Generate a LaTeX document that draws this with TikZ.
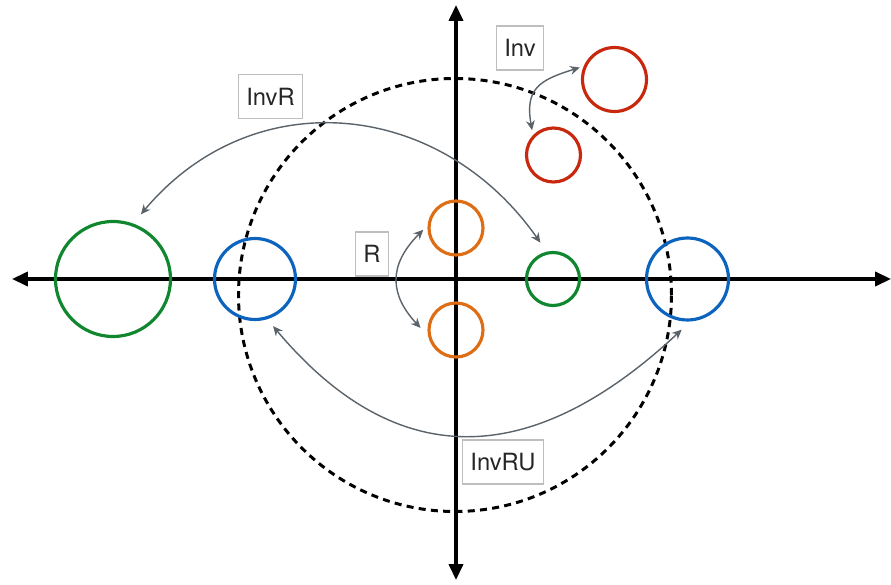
\documentclass[tikz,border=0pt]{standalone}
\usepackage{fontspec}
\setsansfont{TeX Gyre Heros}
\usetikzlibrary{arrows.meta}

\definecolor{ringred}{RGB}{200,40,14}
\definecolor{ringorange}{RGB}{222,110,22}
\definecolor{ringgreen}{RGB}{16,134,46}
\definecolor{ringblue}{RGB}{12,100,190}
\definecolor{arrowgray}{RGB}{90,98,106}
\definecolor{boxgray}{RGB}{190,190,190}

\begin{document}
\begin{tikzpicture}[
        x=0.02cm, y=0.02cm,
        axis/.style={line width=1.8pt, {Triangle[length=9pt,width=8pt]}-{Triangle[length=9pt,width=8pt]}},
        ring/.style={circle, draw, line width=1.8pt, inner sep=0pt},
        conn/.style={draw=arrowgray, line width=0.8pt, {Stealth[length=5.5pt,width=5pt]}-{Stealth[length=5.5pt,width=5pt]}},
        tag/.style={draw=boxgray, line width=0.9pt, text=black!85, font=\sffamily\fontsize{13.5}{16}\selectfont, minimum height=25pt, inner xsep=4.5pt}
    ]
        \useasboundingbox (-456,-305) rectangle (435,279);

        % Unit circle (dashed)
        \draw[line width=1.7pt, dash pattern=on 4pt off 3pt] (-1,-16) circle (216.5);

        % Axes
        \coordinate (x_left) at (-444,0);
        \coordinate (x_right) at (435,0);
        \coordinate (y_bottom) at (0,-301);
        \coordinate (y_top) at (0,274);
        \draw[axis] (x_left) -- (x_right);
        \draw[axis] (y_bottom) -- (y_top);

        % Circles
        \node[ring, draw=ringgreen, minimum size=2.3cm] (green_big) at (-343,0) {};
        \node[ring, draw=ringblue, minimum size=1.62cm] (blue_left) at (-201,0) {};
        \node[ring, draw=ringblue, minimum size=1.64cm] (blue_right) at (231.5,0) {};
        \node[ring, draw=ringgreen, minimum size=1.06cm] (green_small) at (97,0) {};
        \node[ring, draw=ringorange, minimum size=1.08cm] (orange_top) at (0,51) {};
        \node[ring, draw=ringorange, minimum size=1.08cm] (orange_bottom) at (0,-51) {};
        \node[ring, draw=ringred, minimum size=1.28cm] (red_big) at (158.5,199.5) {};
        \node[ring, draw=ringred, minimum size=1.08cm] (red_small) at (97.5,124) {};

        % Labels
        \node[tag] (inv_tag) at (64,231) {Inv};
        \node[tag] (invr_tag) at (-185.5,182.5) {InvR};
        \node[tag] (r_tag) at (-84,25) {R};
        \node[tag] (invru_tag) at (47,-183) {InvRU};

        % Connections
        \draw[conn, shorten <=0.1cm, shorten >=0.08cm] (red_small.136) to[out=100, in=197, looseness=1.4] (red_big.157);
        \draw[conn, shorten <=0.24cm, shorten >=0.22cm] (green_big.70) to[out=50, in=125, looseness=1.15] (green_small.103);
        \draw[conn, shorten <=0.12cm, shorten >=0.22cm] (orange_top.175) to[out=225, in=133, looseness=1.3] (orange_bottom.192);
        \draw[conn, shorten <=0.18cm, shorten >=0.24cm] (blue_left.287) to[out=-50, in=-137, looseness=1.26] (blue_right.274);

    \end{tikzpicture}
\end{document}
